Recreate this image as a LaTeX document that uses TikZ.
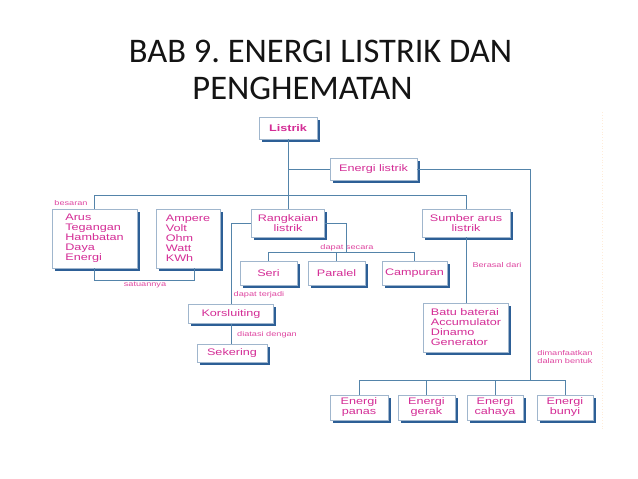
\documentclass[tikz,border=0pt]{standalone}
\usepackage{fontspec}
\setmainfont{Liberation Sans}
\newfontfamily\titlefont{Carlito}
\newfontfamily\diagfont[FakeStretch=1.33]{Liberation Sans}
\usetikzlibrary{shadows}
\frenchspacing
\definecolor{mag}{RGB}{212,45,150}
\definecolor{labmag}{RGB}{222,70,160}
\definecolor{lineblue}{RGB}{84,132,170}
\definecolor{boxline}{RGB}{160,182,205}
\definecolor{shadowblue}{RGB}{45,95,150}
\definecolor{titlecol}{RGB}{20,20,20}
\tikzset{
  box/.style={draw=boxline, line width=0.8pt, fill=white, text=mag,
    font=\diagfont\fontsize{9.5}{10}\selectfont, inner sep=1pt, align=center,
    drop shadow={shadow xshift=2.6pt, shadow yshift=-2.6pt, fill=shadowblue, opacity=1}},
  lbl/.style={text=labmag, font=\diagfont\fontsize{6.9}{8}\selectfont, inner sep=0pt, align=left},
  conn/.style={draw=lineblue, line width=0.9pt},
  ttl/.style={text=titlecol, font=\titlefont\fontsize{34.5}{38}\selectfont, anchor=base, inner sep=0pt}
}
\begin{document}
\begin{tikzpicture}[x=1pt,y=-1pt]
\useasboundingbox (0,0) rectangle (638,479);
% title
\node[ttl] (t1) at (320.5,62) {BAB 9. ENERGI LISTRIK DAN};
\node[ttl] (t2) at (302.5,99) {PENGHEMATAN};
% faint edge
\draw[dotted, draw=orange!15, line width=0.8pt] (602,112) -- (602,430);
% coordinates for junctions
\coordinate (hb) at (0,195);
\coordinate (sb) at (0,280);
\coordinate (rs) at (346,252);
\coordinate (rt) at (530,380);
% boxes
\node[box, minimum width=58pt, minimum height=22pt, font=\diagfont\bfseries\fontsize{9.5}{10}\selectfont] (listrik) at (288,128) {Listrik};
\node[box, minimum width=87pt, minimum height=22pt] (energi) at (373.5,169) {Energi listrik};
\node[box, minimum width=85pt, minimum height=59pt, align=left] (arus) at (94.5,238.5) {Arus\\Tegangan\\Hambatan\\Daya\\Energi};
\node[box, minimum width=64pt, minimum height=59pt, align=left] (ampere) at (188,238.5) {Ampere\\Volt\\Ohm\\Watt\\KWh};
\node[box, minimum width=73pt, minimum height=28pt] (rangkaian) at (288,223) {Rangkaian\\listrik};
\node[box, minimum width=88pt, minimum height=28pt] (sumber) at (466,223) {Sumber arus\\listrik};
\node[box, minimum width=57pt, minimum height=24pt] (seri) at (268.5,273) {Seri};
\node[box, minimum width=57pt, minimum height=24pt] (paralel) at (336.5,273) {Paralel};
\node[box, minimum width=65pt, minimum height=24pt] (campuran) at (414.5,273) {Campuran};
\node[box, minimum width=85pt, minimum height=19pt] (kors) at (231,314) {Korsluiting};
\node[box, minimum width=70pt, minimum height=18pt] (sekering) at (232,353.5) {Sekering};
\node[box, minimum width=85pt, minimum height=49pt, align=left] (batu) at (466,327.5) {Batu baterai\\Accumulator\\Dinamo\\Generator};
\node[box, minimum width=58pt, minimum height=25pt] (panas) at (359,407.5) {Energi\\panas};
\node[box, minimum width=57pt, minimum height=25pt] (gerak) at (426.5,407.5) {Energi\\gerak};
\node[box, minimum width=56pt, minimum height=25pt] (cahaya) at (495,407.5) {Energi\\cahaya};
\node[box, minimum width=56pt, minimum height=25pt] (bunyi) at (565,407.5) {Energi\\bunyi};
% labels
\node[lbl] (lbes) at (71,203) {besaran};
\node[lbl] (lsat) at (145,284.5) {satuannya};
\node[lbl] (ldps) at (347,248) {dapat secara};
\node[lbl] (ldpt) at (259,295) {dapat terjadi};
\node[lbl] (ldia) at (267,335) {diatasi dengan};
\node[lbl] (lber) at (497,265) {Berasal dari};
\node[lbl] (ldim) at (565,357) {dimanfaatkan\\dalam bentuk};
% connectors
\draw[conn] (listrik.south) -- (rangkaian.north);
\draw[conn] (listrik.south |- energi.west) -- (energi.west);
\draw[conn] (energi.east) -| (rt);
\draw[conn] (panas.north |- rt) -- (bunyi.north |- rt);
\foreach \n in {panas,gerak,cahaya,bunyi} \draw[conn] (\n.north |- rt) -- (\n.north);
\draw[conn] (arus.north) -- (arus.north |- hb) -- (sumber.north |- hb) -- (sumber.north);
\draw[conn] (arus.south) -- (arus.south |- sb) -- ([xshift=6pt]ampere.south |- sb) -- ([xshift=6pt]ampere.south);
\draw[conn] (rangkaian.east) -| (rs);
\draw[conn] (seri.north |- rs) -- (campuran.north |- rs);
\foreach \n in {seri,paralel,campuran} \draw[conn] (\n.north |- rs) -- (\n.north);
\draw[conn] (rangkaian.west) -| (kors.north);
\draw[conn] (kors.south) -- (kors.south |- sekering.north);
\draw[conn] (sumber.south) -- (batu.north);
\end{tikzpicture}
\end{document}
